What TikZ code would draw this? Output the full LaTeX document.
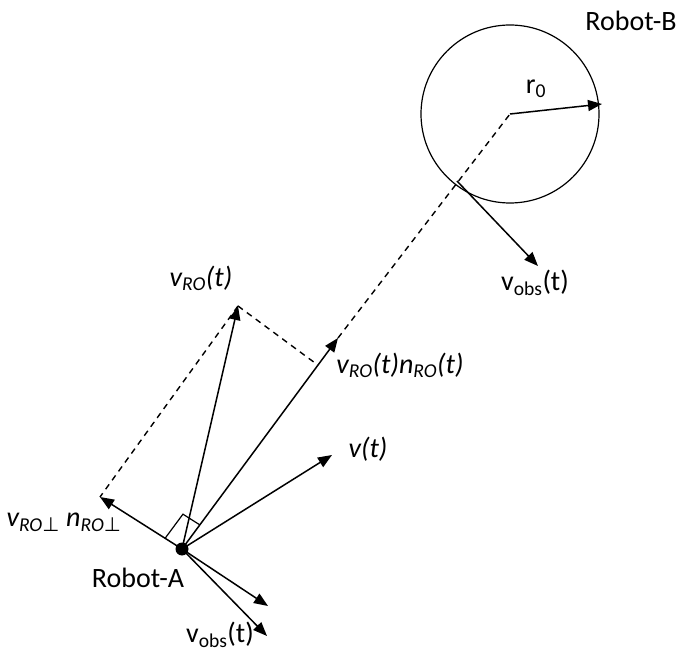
\documentclass[tikz,border=0pt]{standalone}
\usepackage{fontspec}
\setmainfont{Carlito}
\newfontfamily\djv{DejaVu Sans}
\usetikzlibrary{arrows.meta,calc}
\begin{document}
\begin{tikzpicture}[x=1pt,y=-1pt,
  vec/.style={line width=1.5pt,-{Triangle[length=14pt,width=11pt]}},
  dsh/.style={line width=1.4pt,dash pattern=on 6pt off 5pt},
  thin line/.style={line width=1.2pt},
  lbl/.style={font=\fontsize{28}{32}\selectfont, inner sep=0pt},
  ilbl/.style={font=\fontsize{28}{32}\selectfont\itshape, inner sep=0pt}]
\useasboundingbox (0,0) rectangle (683,652);
% points
\node[circle,fill,inner sep=0pt,minimum size=13pt] (A) at (182,549) {};
\coordinate (O) at (510,114);
\coordinate (Nt) at (338,338);
\coordinate (V) at (238,306);
\coordinate (P) at (100,497);
\coordinate (Vt) at (332,455);
\coordinate (L1) at (268,606);
\coordinate (L2) at (267,636);
\coordinate (S) at (457,181);
\coordinate (T) at (538,266);
\coordinate (R) at (602,104);
% robot B
\draw[thin line] (O) circle (89);
\draw[vec] (O) -- (R);
\draw[vec] (S) -- (T);
% dashed lines
\draw[dsh] (Nt) -- (O);
\coordinate (F) at ($(A.center)!(V)!(Nt)$);
\draw[dsh] (V) -- (F);
\draw[dsh] (V) -- (P);
% vectors from A
\draw[vec] (A.center) -- (Nt);
\draw[vec] (A.center) -- (V);
\draw[vec] (A.center) -- (P);
\draw[vec] (A.center) -- (Vt);
\draw[vec] (A.center) -- (L1);
\draw[vec] (A.center) -- (L2);
% right angle marker
\coordinate (q1) at ($(A.center)!20pt!(P)$);
\coordinate (q2) at ($(A.center)!30pt!(Nt)$);
\draw[thin line] (q1) -- ($(q1)+(q2)-(A.center)$) -- (q2);
% labels
\node[lbl] (lB) at (631,21) {Robot-B};
\node[lbl] (lr) at (536,89) {r\textsubscript{0}};
\node[lbl] (lobsB) at (535,283) {v\textsubscript{obs}(t)};
\node[ilbl] (lvro) at (201,278) {v\textsubscript{RO}(t)};
\node[ilbl] (lnro) at (400,365) {v\textsubscript{RO}(t)n\textsubscript{RO}(t)};
\node[ilbl] (lv) at (368,449) {v(t)};
\node[ilbl] (lperp) at (64,522) {v\textsubscript{RO{\djv\upshape ⊥}} n\textsubscript{RO{\djv\upshape ⊥}}};
\node[lbl] (lA) at (138,578) {Robot-A};
\node[lbl] (lobsA) at (220,635) {v\textsubscript{obs}(t)};
\end{tikzpicture}
\end{document}
